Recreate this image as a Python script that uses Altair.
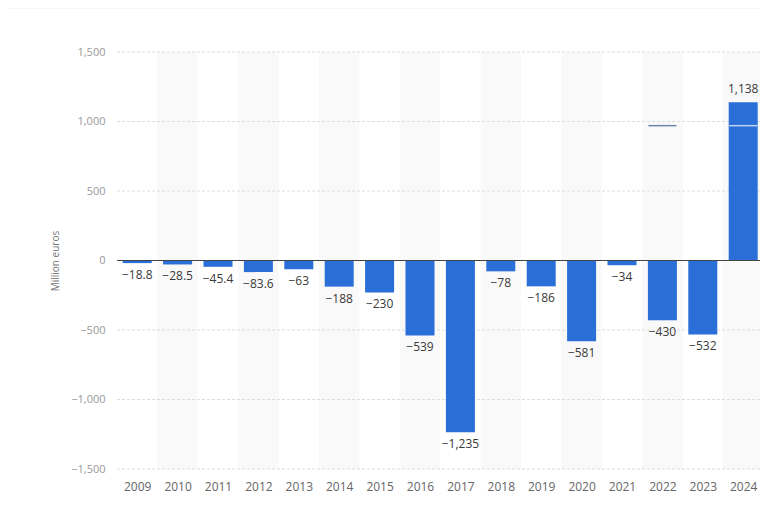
import altair as alt
import pandas as pd

# ---- data ----
years = list(range(2009, 2025))
values = [-18.8, -28.5, -45.4, -83.6, -63, -188, -230, -539, -1235, -78, -186, -581, -34, -430, -532, 1138]
shaded_years = years[1::2]
grid_values = [-1500, -1000, -500, 500, 1000, 1500]
tick_values = [-1500, -1000, -500, 0, 500, 1000, 1500]
marker_years = [2022, 2024]
marker_values = [970, 970]
marker_colors = ["#34558c", "#ffffff"]

df = pd.DataFrame({"year": years, "value": values})
shade_df = pd.DataFrame({"year": shaded_years})
grid_df = pd.DataFrame({"v": grid_values})
marker_df = pd.DataFrame({"year": marker_years, "value": marker_values, "c": marker_colors})

PAD_L = 109
W, H = 752 - PAD_L, 417
STEP = 40.4
FONT = "Open Sans"

x_lo = years[0] - 0.5
x_hi = x_lo + W / STEP
xscale = alt.Scale(domain=[x_lo, x_hi], nice=False, zero=False, padding=0)
yscale = alt.Scale(domain=[-1500, 1500], nice=False, zero=False, padding=0)

xaxis = alt.Axis(title=None, values=years, format="d", labelAngle=0, domain=False, ticks=False,
                 grid=False, labelFlush=False, labelOverlap=False, labelPadding=12,
                 labelColor="#666666", labelFontSize=12, labelFont=FONT)
yaxis = alt.Axis(title="Million euros", values=tick_values, format=",.0f", grid=False,
                 domain=False, ticks=False, labelPadding=12, labelColor="#999999",
                 labelFontSize=11, labelFont=FONT, titleFont=FONT, titleFontSize=10,
                 titleColor="#777777", titleFontWeight="normal", titlePadding=10)

X = alt.X("year:Q", scale=xscale, axis=xaxis)
Y = alt.Y("value:Q", scale=yscale, axis=yaxis)

shade = alt.Chart(shade_df).transform_calculate(
    x0="datum.year - 0.5", x1="datum.year + 0.5"
).mark_rect(color="#f9f9f9").encode(
    x=alt.X("x0:Q", scale=xscale, axis=xaxis), x2="x1:Q",
    y=alt.value(0), y2=alt.value(H)
)

grid = alt.Chart(grid_df).mark_rule(color="#dddddd", strokeDash=[3, 2], strokeWidth=1).encode(
    y=alt.Y("v:Q", scale=yscale, axis=yaxis)
)

bars = alt.Chart(df).mark_bar(width=29, color="#2a6ed8").encode(x=X, y=Y)

zero = alt.Chart(pd.DataFrame({"v": [0]})).mark_rule(color="#444444", strokeWidth=1).encode(
    y=alt.Y("v:Q", scale=yscale, axis=yaxis)
)

neg_labels = alt.Chart(df).transform_filter("datum.value < 0").mark_text(
    baseline="top", dy=7, font=FONT, fontSize=12, color="#3a3a3a"
).encode(x=X, y=Y, text=alt.Text("value:Q", format=",~g"))

pos_labels = alt.Chart(df).transform_filter("datum.value >= 0").mark_text(
    baseline="bottom", dy=-6, font=FONT, fontSize=12, color="#3a3a3a"
).encode(x=X, y=Y, text=alt.Text("value:Q", format=",~g"))

markers = alt.Chart(marker_df).mark_tick(thickness=1.5, size=28, orient="horizontal").encode(
    x=X, y=Y, color=alt.Color("c:N", scale=None)
)

topline = alt.Chart(pd.DataFrame({"v": [0]})).mark_rule(color="#eeeeee", strokeWidth=1).encode(
    x=alt.value(-PAD_L), x2=alt.value(W), y=alt.value(-44)
)

chart = alt.layer(shade, grid, bars, zero, neg_labels, pos_labels, markers, topline).properties(
    width=W, height=H,
    autosize=alt.AutoSizeParams(type="none"),
    padding={"left": PAD_L, "top": 44, "right": 0, "bottom": 30},
).configure_view(stroke=None)

chart.save("out.html", embed_options={"renderer": "svg", "actions": False})
